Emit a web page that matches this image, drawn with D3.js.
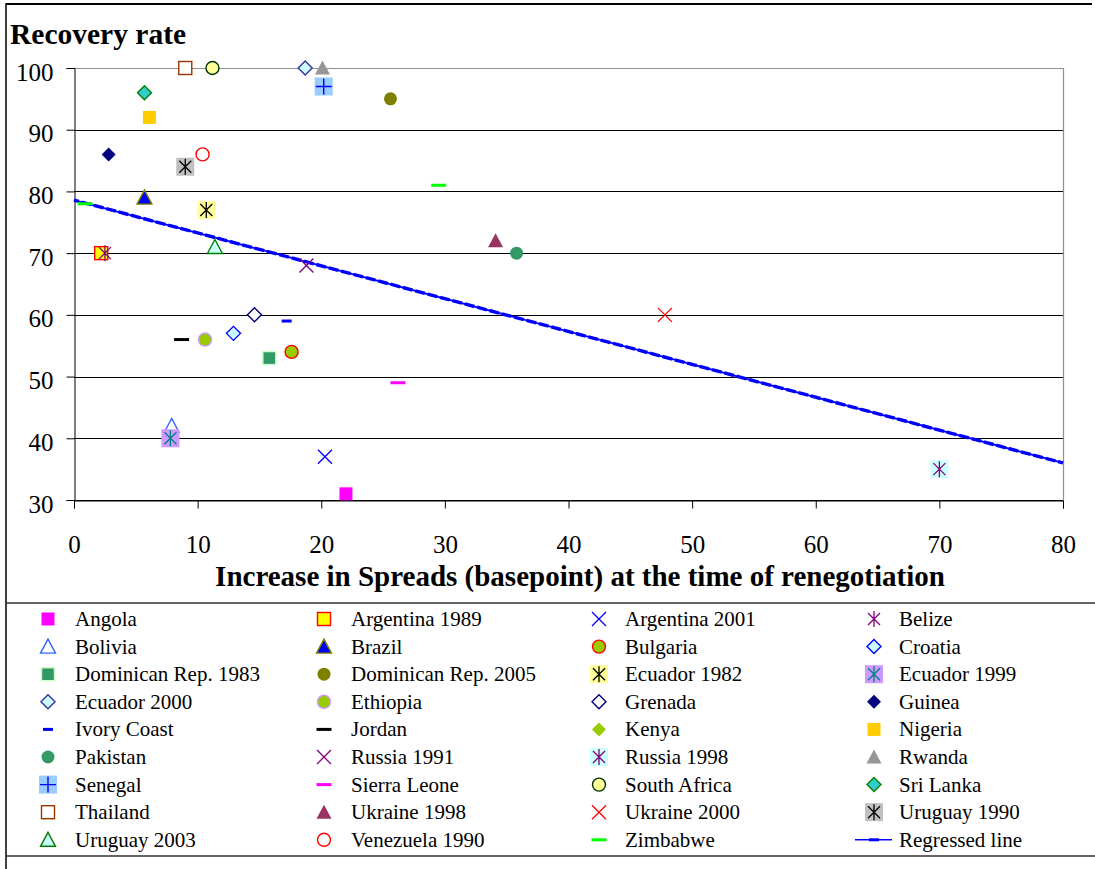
<!DOCTYPE html>
<html><head><meta charset="utf-8">
<script src="https://cdn.jsdelivr.net/npm/d3@7"></script>
<style>
body{margin:0;background:#fff}
svg{display:block}
svg text{font-family:"Liberation Serif","Times New Roman",serif !important;fill:#000}
</style>
</head><body>
<svg id="chart" width="1095" height="869"></svg>
<script>
// ---------------- DATA ----------------
const countries = [
  "Angola","Argentina 1989","Argentina 2001","Belize",
  "Bolivia","Brazil","Bulgaria","Croatia",
  "Dominican Rep. 1983","Dominican Rep. 2005","Ecuador 1982","Ecuador 1999",
  "Ecuador 2000","Ethiopia","Grenada","Guinea",
  "Ivory Coast","Jordan","Kenya","Nigeria",
  "Pakistan","Russia 1991","Russia 1998","Rwanda",
  "Senegal","Sierra Leone","South Africa","Sri Lanka",
  "Thailand","Ukraine 1998","Ukraine 2000","Uruguay 1990",
  "Uruguay 2003","Venezuela 1990","Zimbabwe"
];
const pointCountry = [
  "Angola","Argentina 1989","Argentina 2001","Belize","Bolivia","Brazil","Bulgaria","Croatia",
  "Dominican Rep. 1983","Dominican Rep. 2005","Ecuador 1982","Ecuador 1999","Ecuador 2000",
  "Ethiopia","Grenada","Guinea","Ivory Coast","Jordan","Kenya","Nigeria","Pakistan",
  "Russia 1991","Russia 1998","Rwanda","Senegal","Sierra Leone","South Africa","Sri Lanka",
  "Thailand","Ukraine 1998","Ukraine 2000","Uruguay 1990","Uruguay 2003","Venezuela 1990",
  "Zimbabwe","Zimbabwe"
];
const pointSpread = [
  22.0, 2.2, 20.3, 2.5, 7.9, 5.7, 17.6, 12.9,
  15.8, 25.6, 10.7, 7.8, 18.7,
  10.6, 14.6, 2.8, 17.2, 8.7, 9.0, 6.1, 35.8,
  18.8, 70.0, 20.1, 20.2, 26.2, 11.2, 5.7,
  9.0, 34.1, 47.8, 9.0, 11.4, 10.4,
  29.5, 0.9
];
const pointRecovery = [
  31, 70, 37, 70, 42, 79, 54, 57,
  53, 95, 77, 40, 100,
  56, 60, 86, 59, 56, 84, 92, 70,
  68, 35, 100, 97, 49, 100, 96,
  100, 72, 60, 84, 71, 86,
  81, 78
];
const regressedX = [0, 80];
const regressedY = [78.6, 36.0];
const xTicks = [0,10,20,30,40,50,60,70,80];
const yTicks = [30,40,50,60,70,80,90,100];
const yTitle = "Recovery rate";
const xTitle = "Increase in Spreads (basepoint) at the time of renegotiation";
const regressedLabel = "Regressed line";

// ---------------- STYLES ----------------
const markerStyle = {
  "Angola":              {shape:"square",  fill:"#ff00ff", stroke:"none"},
  "Argentina 1989":      {shape:"square",  fill:"#ffff00", stroke:"#ff0000"},
  "Argentina 2001":      {shape:"x",       stroke:"#0000ff"},
  "Belize":              {shape:"star",    stroke:"#800080"},
  "Bolivia":             {shape:"triangle",fill:"none", stroke:"#3366ff"},
  "Brazil":              {shape:"triangle",fill:"#0000ff", stroke:"#808000"},
  "Bulgaria":            {shape:"circle",  fill:"#99cc00", stroke:"#ff0000"},
  "Croatia":             {shape:"diamond", fill:"#ccffff", stroke:"#0000ff"},
  "Dominican Rep. 1983": {shape:"square",  fill:"#339966", stroke:"#ccffcc"},
  "Dominican Rep. 2005": {shape:"circle",  fill:"#808000", stroke:"none"},
  "Ecuador 1982":        {shape:"star",    stroke:"#000000", bg:"#ffff99"},
  "Ecuador 1999":        {shape:"star",    stroke:"#008080", bg:"#cc99ff"},
  "Ecuador 2000":        {shape:"diamond", fill:"#ccffff", stroke:"#333399"},
  "Ethiopia":            {shape:"circle",  fill:"#99cc00", stroke:"#cc99ff"},
  "Grenada":             {shape:"diamond", fill:"#ffffff", stroke:"#000080"},
  "Guinea":              {shape:"diamond", fill:"#000080", stroke:"none"},
  "Ivory Coast":         {shape:"dash",    fill:"#0000ff", w:10},
  "Jordan":              {shape:"dash",    fill:"#000000", w:15},
  "Kenya":               {shape:"diamond", fill:"#99cc00", stroke:"none"},
  "Nigeria":             {shape:"square",  fill:"#ffcc00", stroke:"none"},
  "Pakistan":            {shape:"circle",  fill:"#339966", stroke:"none"},
  "Russia 1991":         {shape:"x",       stroke:"#800080"},
  "Russia 1998":         {shape:"star",    stroke:"#800080", bg:"#ccffff"},
  "Rwanda":              {shape:"triangle",fill:"#969696", stroke:"none"},
  "Senegal":             {shape:"plus",    stroke:"#0000ff", bg:"#99ccff"},
  "Sierra Leone":        {shape:"dash",    fill:"#ff00ff", w:15},
  "South Africa":        {shape:"circle",  fill:"#ffff99", stroke:"#003300"},
  "Sri Lanka":           {shape:"diamond", fill:"#33cccc", stroke:"#008000"},
  "Thailand":            {shape:"square",  fill:"#ffffff", stroke:"#993300"},
  "Ukraine 1998":        {shape:"triangle",fill:"#993366", stroke:"none"},
  "Ukraine 2000":        {shape:"x",       stroke:"#ff0000"},
  "Uruguay 1990":        {shape:"star",    stroke:"#000000", bg:"#c0c0c0"},
  "Uruguay 2003":        {shape:"triangle",fill:"#ccffff", stroke:"#008000"},
  "Venezuela 1990":      {shape:"circle",  fill:"#ffffff", stroke:"#ff0000"},
  "Zimbabwe":            {shape:"dash",    fill:"#00ff00", w:15}
};
const lineColor = "#0000ff";
const SERIF = '"Liberation Serif","Times New Roman",serif';

// ---------------- DRAW ----------------
const svg = d3.select("#chart");
const W = 1095, H = 869;
const x = d3.scaleLinear().domain([0,80]).range([74,1063]);
const y = d3.scaleLinear().domain([30,100]).range([500,68]);

// outer frame
svg.append("line").attr("x1",6).attr("x2",6).attr("y1",3).attr("y2",H).attr("stroke","#000").attr("stroke-width",1.5);
svg.append("line").attr("x1",6).attr("x2",1092).attr("y1",4).attr("y2",4).attr("stroke","#000").attr("stroke-width",2);

// gridlines
svg.append("g").selectAll("line").data(yTicks).join("line")
  .attr("x1",x(0)).attr("x2",x(80))
  .attr("y1",d=>Math.round(y(d))+0.5).attr("y2",d=>Math.round(y(d))+0.5)
  .attr("stroke",d=>d===100?"#909090":"#000").attr("stroke-width",1);
svg.append("line").attr("x1",x(80)+0.5).attr("x2",x(80)+0.5).attr("y1",y(100)).attr("y2",y(30))
  .attr("stroke","#909090").attr("stroke-width",1.2);

// axes
const yAxis = d3.axisLeft(y).tickValues(yTicks).tickSize(8).tickPadding(13).tickFormat(d3.format("d"));
const gy = svg.append("g").attr("transform",`translate(${Math.round(x(0))+0.5},0)`).call(yAxis)
  .attr("font-family",SERIF).attr("font-size",25);
gy.select(".domain").attr("stroke","#000");
gy.selectAll(".tick line").attr("stroke","#000");
gy.selectAll(".tick text").attr("font-family",SERIF).attr("font-size",25).attr("dy",null).attr("y",12);

const xAxis = d3.axisBottom(x).tickValues(xTicks).tickSize(8).tickPadding(20).tickFormat(d3.format("d"));
const gx = svg.append("g").attr("transform",`translate(0,${Math.round(y(30))+0.5})`).call(xAxis)
  .attr("font-family",SERIF).attr("font-size",25);
gx.select(".domain").attr("stroke","#000");
gx.selectAll(".tick line").attr("stroke","#000");
gx.selectAll(".tick text").attr("font-family",SERIF).attr("font-size",25).attr("dy",null).attr("y",52);

// titles
svg.append("text").attr("x",10).attr("y",44).attr("font-family",SERIF).attr("font-size",29.5).attr("font-weight","bold").text(yTitle);
svg.append("text").attr("x",580).attr("y",586).attr("text-anchor","middle").attr("font-family",SERIF)
  .attr("font-size",29).attr("font-weight","bold").text(xTitle);

// regressed line
const lineGen = d3.line().x(d=>x(d[0])).y(d=>y(d[1]));
const regPts = regressedX.map((v,i)=>[v,regressedY[i]]);
svg.append("path").attr("d",lineGen(regPts)).attr("fill","none").attr("stroke",lineColor).attr("stroke-width",1.8);
svg.append("path").attr("d",lineGen(regPts)).attr("fill","none").attr("stroke",lineColor).attr("stroke-width",3.4)
  .attr("stroke-dasharray","10 2.79").attr("stroke-dashoffset",5);

// marker drawing
function drawMarker(g, st) {
  const s = 13;
  if (st.bg) {
    g.append("rect").attr("x",-9).attr("y",-9).attr("width",18).attr("height",18).attr("fill",st.bg);
  }
  const sw = 1.4;
  switch (st.shape) {
    case "square":
      g.append("rect").attr("x",-s/2).attr("y",-s/2).attr("width",s).attr("height",s)
        .attr("fill",st.fill).attr("stroke",st.stroke).attr("stroke-width",sw);
      break;
    case "circle":
      g.append("circle").attr("r",s/2).attr("fill",st.fill).attr("stroke",st.stroke).attr("stroke-width",sw);
      break;
    case "triangle":
      g.append("path").attr("d","M0,-7.5L7.5,6.5L-7.5,6.5Z")
        .attr("fill",st.fill).attr("stroke",st.stroke).attr("stroke-width",sw);
      break;
    case "diamond":
      g.append("path").attr("d","M0,-7L7,0L0,7L-7,0Z")
        .attr("fill",st.fill).attr("stroke",st.stroke).attr("stroke-width",sw);
      break;
    case "x":
      g.append("path").attr("d","M-7,-7L7,7M7,-7L-7,7").attr("stroke",st.stroke).attr("stroke-width",1.3).attr("fill","none");
      break;
    case "star":
      g.append("path").attr("d","M-6,-6L6,6M6,-6L-6,6M0,-8L0,8").attr("stroke",st.stroke).attr("stroke-width",1.3).attr("fill","none");
      break;
    case "plus":
      g.append("path").attr("d","M-8,0L8,0M0,-8L0,8").attr("stroke",st.stroke).attr("stroke-width",1.4).attr("fill","none");
      break;
    case "dash":
      g.append("rect").attr("x",-st.w/2).attr("y",-1.5).attr("width",st.w).attr("height",3).attr("fill",st.fill);
      break;
  }
}

// points (series order: later series on top)
const pts = pointCountry.map((c,i)=>({c, xv:pointSpread[i], yv:pointRecovery[i], order:countries.indexOf(c)}))
  .sort((a,b)=>a.order-b.order);
const gp = svg.append("g");
pts.forEach(p=>{
  const g = gp.append("g").attr("transform",`translate(${x(p.xv)},${y(p.yv)})`);
  drawMarker(g, markerStyle[p.c]);
});

// legend
svg.append("line").attr("x1",6).attr("x2",W).attr("y1",603).attr("y2",603).attr("stroke","#333").attr("stroke-width",1.5);
svg.append("line").attr("x1",6).attr("x2",W).attr("y1",856).attr("y2",856).attr("stroke","#333").attr("stroke-width",1.5);
const colMarker = [48,324,599,874];
const colText = [75,351,625,899];
const rowY0 = 619, rowStep = 27.6;
const legendItems = countries.concat([regressedLabel]);
legendItems.forEach((name,i)=>{
  const col = i%4, row = Math.floor(i/4);
  const cy = rowY0 + row*rowStep;
  const g = svg.append("g").attr("transform",`translate(${colMarker[col]},${cy})`);
  if (name === regressedLabel) {
    g.append("line").attr("x1",-19).attr("x2",18).attr("y1",0).attr("y2",0).attr("stroke",lineColor).attr("stroke-width",1.5);
    g.append("rect").attr("x",-5).attr("y",-1.5).attr("width",10).attr("height",3).attr("fill",lineColor);
  } else {
    drawMarker(g, markerStyle[name]);
  }
  svg.append("text").attr("x",colText[col]).attr("y",cy+7).attr("font-family",SERIF).attr("font-size",21).text(name);
});
</script>
</body></html>
